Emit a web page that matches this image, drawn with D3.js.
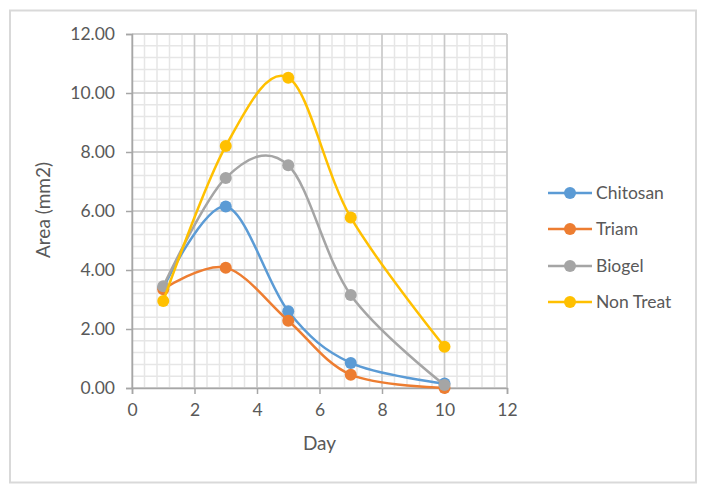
<!DOCTYPE html>
<html><head><meta charset="utf-8">
<script src="https://cdn.jsdelivr.net/npm/d3@7"></script>
<style>
html,body{margin:0;padding:0;background:#fff;}
svg{display:block;font-family:Lato, "Open Sans", sans-serif;}
</style></head>
<body>
<svg id="chart" width="708" height="495"></svg>
<script>
const days = [1, 3, 5, 7, 10];
const seriesNames = ["Chitosan", "Triam", "Biogel", "Non Treat"];
const chitosan = [3.40, 6.15, 2.60, 0.85, 0.15];
const triam = [3.35, 4.08, 2.28, 0.45, 0.00];
const biogel = [3.45, 7.12, 7.55, 3.15, 0.10];
const nonTreat = [2.95, 8.20, 10.52, 5.78, 1.40];
const colors = ["#5B9BD5", "#ED7D31", "#A5A5A5", "#FFC000"];
const xTicks = [0, 2, 4, 6, 8, 10, 12];
const yTicks = [0, 2, 4, 6, 8, 10, 12];

const series = [chitosan, triam, biogel, nonTreat].map((vals, i) => ({
  name: seriesNames[i], color: colors[i],
  pts: vals.map((v, j) => [days[j], v])
}));

const svg = d3.select("#chart");
const L = 132, R = 507, T = 34, B = 388;
const x = d3.scaleLinear().domain([0, 12]).range([L, R]);
const y = d3.scaleLinear().domain([0, 12]).range([B, T]);

// outer border
svg.append("rect").attr("x", 10).attr("y", 10.5).attr("width", 686).attr("height", 472)
  .attr("fill", "#fff").attr("stroke", "#d9d9d9").attr("stroke-width", 2);

// minor grid
const minor = d3.range(0, 12.001, 0.4);
const g = svg.append("g");
g.selectAll(".mx").data(minor).join("line")
  .attr("x1", d => x(d)).attr("x2", d => x(d)).attr("y1", T).attr("y2", B)
  .attr("stroke", "#e6e6e6").attr("stroke-width", 1.5);
g.selectAll(".my").data(minor).join("line")
  .attr("y1", d => y(d)).attr("y2", d => y(d)).attr("x1", L).attr("x2", R)
  .attr("stroke", "#e6e6e6").attr("stroke-width", 1.5);
// major grid
g.selectAll(".Mx").data(xTicks).join("line")
  .attr("x1", d => x(d)).attr("x2", d => x(d)).attr("y1", T).attr("y2", B)
  .attr("stroke", "#c8c8c8").attr("stroke-width", 1.5);
g.selectAll(".My").data(yTicks).join("line")
  .attr("y1", d => y(d)).attr("y2", d => y(d)).attr("x1", L).attr("x2", R)
  .attr("stroke", "#c8c8c8").attr("stroke-width", 1.5);

// axes
const xAxis = d3.axisBottom(x).tickValues(xTicks).tickSize(6).tickPadding(10).tickFormat(d3.format("d"));
const yAxis = d3.axisLeft(y).tickValues(yTicks).tickSize(6).tickPadding(11).tickFormat(d3.format(".2f"));
const gx = svg.append("g").attr("transform", `translate(0,${B})`).call(xAxis);
const gy = svg.append("g").attr("transform", `translate(${L},0)`).call(yAxis);
[gx, gy].forEach(a => {
  a.select(".domain").attr("stroke", "#a6a6a6").attr("stroke-width", 1.5);
  a.selectAll(".tick line").attr("stroke", "#a6a6a6").attr("stroke-width", 1.5);
  a.selectAll("text").attr("fill", "#595959").style("font-size", "17.5px").style("font-family", "Lato, sans-serif");
});

// axis titles
svg.append("text").attr("x", x(6)).attr("y", 450).attr("text-anchor", "middle")
  .attr("fill", "#595959").style("font-size", "19px").text("Day");
svg.append("text").attr("transform", "translate(50,210) rotate(-90)").attr("text-anchor", "middle")
  .attr("fill", "#595959").style("font-size", "19px").text("Area (mm2)");

// lines
const line = d3.line().x(d => x(d[0])).y(d => y(d[1])).curve(d3.curveCatmullRom.alpha(0));
const sg = svg.append("g");
series.forEach(s => {
  sg.append("path").attr("d", line(s.pts)).attr("fill", "none")
    .attr("stroke", s.color).attr("stroke-width", 2.5);
  sg.selectAll(null).data(s.pts).join("circle")
    .attr("cx", d => x(d[0])).attr("cy", d => y(d[1])).attr("r", 6)
    .attr("fill", s.color);
});

// legend
const legY = [193, 229, 266, 302];
const lg = svg.append("g");
series.forEach((s, i) => {
  lg.append("line").attr("x1", 548).attr("x2", 592).attr("y1", legY[i]).attr("y2", legY[i])
    .attr("stroke", s.color).attr("stroke-width", 2.5);
  lg.append("circle").attr("cx", 570).attr("cy", legY[i]).attr("r", 6).attr("fill", s.color);
  lg.append("text").attr("x", 596).attr("y", legY[i]).attr("dy", "0.36em")
    .attr("fill", "#595959").style("font-size", "17.5px").text(s.name);
});
</script>
</body></html>
